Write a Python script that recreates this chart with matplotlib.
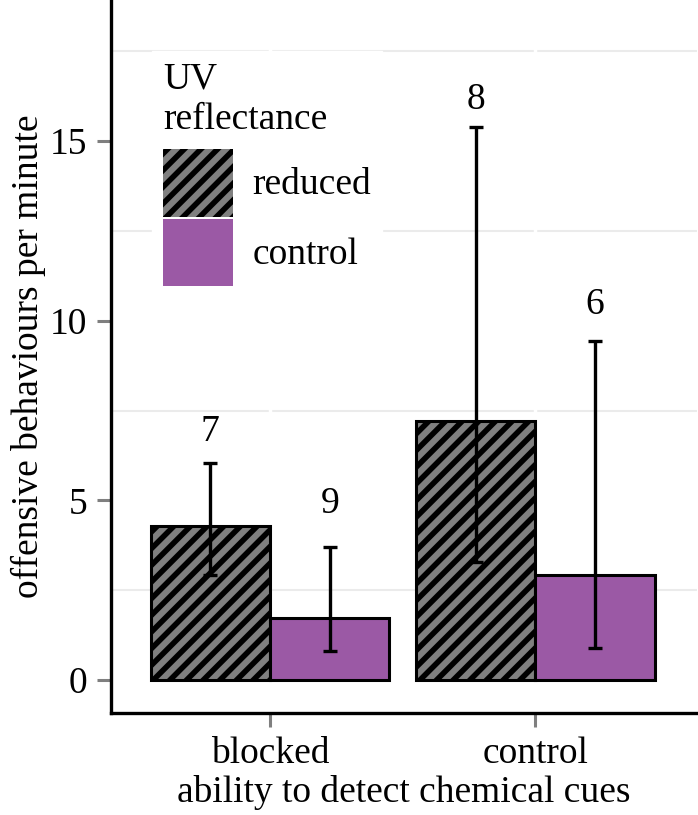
import numpy as np
import matplotlib
matplotlib.use("Agg")
import matplotlib.pyplot as plt
import matplotlib.patches as mpatches

plt.rcParams['font.family'] = ['Liberation Serif', 'DejaVu Serif']
plt.rcParams['hatch.linewidth'] = 4.0
plt.rcParams['hatch.color'] = 'black'

groups = ['blocked', 'control']
uv_levels = ['reduced', 'control']

# means and error-bar limits
means_reduced = [4.30, 7.22]
lower_reduced = [2.93, 3.29]
upper_reduced = [6.05, 15.40]
n_reduced = [7, 8]
label_y_reduced = [6.9, 16.15]

means_control = [1.73, 2.92]
lower_control = [0.82, 0.90]
upper_control = [3.71, 9.45]
n_control = [9, 6]
label_y_control = [4.9, 10.45]

grey = '#808080'
purple = '#9b59a5'

fs = 27
fig = plt.figure(figsize=(6.98, 8.15), dpi=100)
ax = fig.add_axes([111 / 698, 102 / 815, 586 / 698, 713 / 815])

x = np.arange(1, len(groups) + 1)
w = 0.45

# grid: light minor lines, white major vertical lines
for yv in [2.5, 7.5, 12.5, 17.5]:
    ax.axhline(yv, color='#ebebeb', lw=1.5, zorder=0)
for xv in x:
    ax.axvline(xv, color='white', lw=2.5, zorder=0.5)

ax.bar(x - w / 2, means_reduced, w, color=grey, edgecolor='black',
       hatch='//', linewidth=2.2, zorder=2)
ax.bar(x + w / 2, means_control, w, color=purple, edgecolor='black',
       linewidth=2.2, zorder=2)

for xs, m, lo, up in [(x - w / 2, means_reduced, lower_reduced, upper_reduced),
                      (x + w / 2, means_control, lower_control, upper_control)]:
    m = np.array(m)
    err = [m - np.array(lo), np.array(up) - m]
    ax.errorbar(xs, m, yerr=err, fmt='none', ecolor='black', elinewidth=2.4,
                capsize=5, capthick=2.4, zorder=3)

for xs, ns, ly in [(x - w / 2, n_reduced, label_y_reduced),
                   (x + w / 2, n_control, label_y_control)]:
    for xi, ni, yi in zip(xs, ns, ly):
        ax.text(xi, yi, str(ni), ha='center', va='center', fontsize=fs, zorder=4)

ax.set_xlim(0.4, 2.61)
ax.set_ylim(-0.92, 18.93)
ax.set_xticks(x)
ax.set_xticklabels(groups)
ax.set_yticks([0, 5, 10, 15])
ax.tick_params(axis='both', labelsize=fs, color='#7f7f7f', width=2.2,
               length=10, pad=7)

for s in ['top', 'right']:
    ax.spines[s].set_visible(False)
for s in ['left', 'bottom']:
    ax.spines[s].set_linewidth(2.4)
    ax.spines[s].set_color('black')

ax.set_xlabel('ability to detect chemical cues', fontsize=fs, labelpad=3)
ax.set_ylabel('offensive behaviours per minute', fontsize=fs, labelpad=3)

h1 = mpatches.Patch(facecolor=grey, edgecolor='black', hatch='//',
                    linewidth=0, label=uv_levels[0])
h2 = mpatches.Patch(facecolor=purple, edgecolor='none', linewidth=0,
                    label=uv_levels[1])
leg = ax.legend(handles=[h1, h2], title='UV\nreflectance', fontsize=fs,
                title_fontsize=fs, loc='upper left',
                bbox_to_anchor=(41 / 586, 1 - 51 / 713), frameon=True,
                facecolor='white', edgecolor='white', framealpha=1,
                handlelength=1.87, handleheight=2.4, labelspacing=0.05,
                handletextpad=0.5, borderpad=0.3, borderaxespad=0,
                alignment='left', fancybox=False)
leg._legend_box.sep = 9
leg.set_zorder(1)

fig.savefig('out.png', dpi=100)
